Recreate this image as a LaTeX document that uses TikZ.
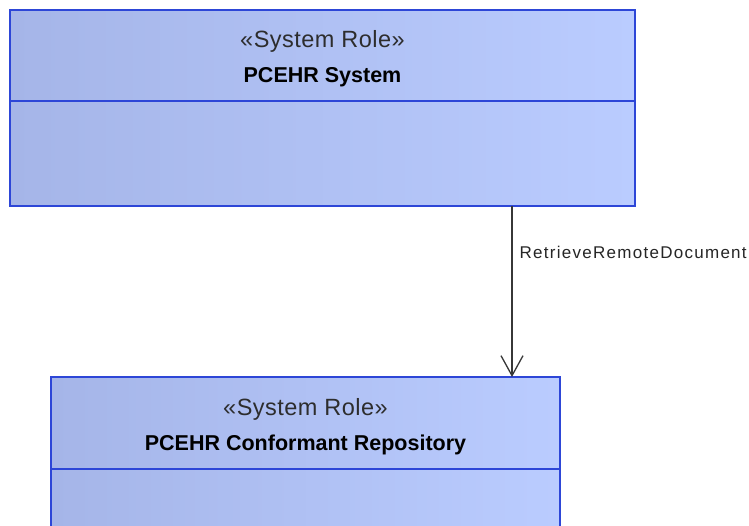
\documentclass[tikz,border=0pt]{standalone}
\usepackage{fontspec}
\setmainfont{Liberation Sans}
\usetikzlibrary{positioning,arrows.meta}

\definecolor{roleleft}{RGB}{165,181,232}
\definecolor{roleright}{RGB}{186,204,255}
\definecolor{roleline}{RGB}{45,70,215}
\definecolor{flowline}{RGB}{55,55,55}
\definecolor{stereo}{RGB}{45,45,45}

\tikzset{
	rolebox/.style={draw=roleline, line width=1.5pt, left color=roleleft, right color=roleright,
		inner sep=0pt, outer sep=0pt},
	roletitle/.style={align=center, inner sep=0pt, font=\fontsize{21.5}{35}\selectfont},
	flow/.style={draw=flowline, line width=1.3pt, -{Straight Barb[length=20pt,width=22pt]}},
	flowlabel/.style={inner sep=0pt, text=black!85, font=\fontsize{17}{20}\selectfont\addfontfeature{LetterSpace=7.5}},
}
\newcommand{\stereotype}[1]{\textcolor{stereo}{\fontsize{23.5}{35}\selectfont\addfontfeature{LetterSpace=2}«#1»}}

\begin{document}
\begin{tikzpicture}[x=1pt,y=-1pt]

	\clip (0,0) rectangle (749,525);
	\fill [white] (0,0) rectangle (749,525);

	% PCEHR System
	\node [rolebox, minimum width=625pt, minimum height=91pt] (system) at (322.5,55.5) {};
	\node [rolebox, minimum width=625pt, minimum height=105pt, below=0pt of system] (systembody) {};
	\node [roletitle] (systemtitle) at ([yshift=-3pt]system.center)
		{\stereotype{System Role}\\\textbf{PCEHR System}};

	% PCEHR Conformant Repository
	\node [rolebox, minimum width=509pt, minimum height=92pt] (repo) at (305.5,423) {};
	\node [rolebox, minimum width=509pt, minimum height=80pt, below=0pt of repo] (repobody) {};
	\node [roletitle] (repotitle) at ([yshift=-4pt]repo.center)
		{\stereotype{System Role}\\\textbf{PCEHR Conformant Repository}};

	\coordinate (lane) at (512,0);
	\draw [flow] (lane |- systembody.south) -- (lane |- repo.north)
		node [flowlabel, pos=0.27, right=7pt] (retrieve) {RetrieveRemoteDocument};

\end{tikzpicture}
\end{document}
